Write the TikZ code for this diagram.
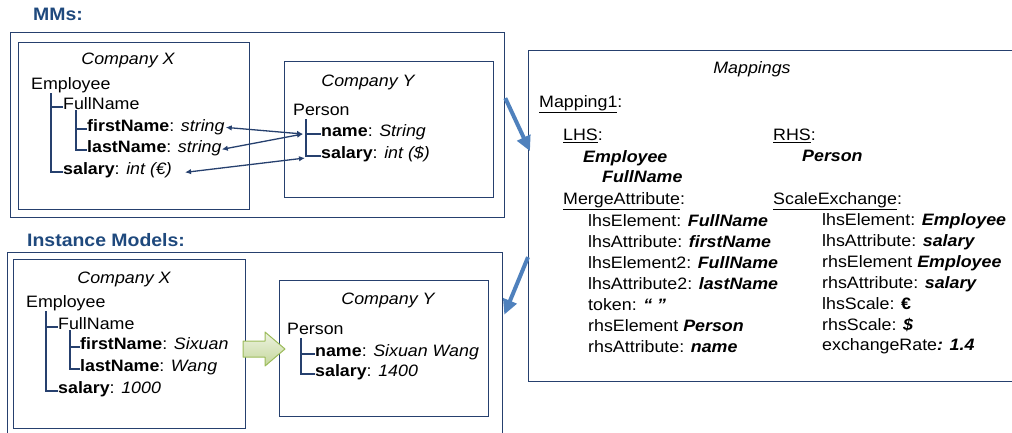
\documentclass[tikz,border=0pt]{standalone}
\usepackage{fontspec}
\setmainfont{Liberation Sans}[FakeStretch=1.08]
\usetikzlibrary{arrows.meta}

\definecolor{frame}{RGB}{38,64,110}
\definecolor{heading}{RGB}{31,73,125}
\definecolor{flow}{RGB}{79,129,189}
\definecolor{greenedge}{RGB}{155,187,89}
\definecolor{greenlight}{RGB}{238,243,226}
\definecolor{greendark}{RGB}{196,215,155}

% bold italic value inside a mapping entry
\newcommand\mapval[1]{\textbf{\textit{#1}}}

\begin{document}
\begin{tikzpicture}[x=1pt,y=-1pt,
  panel/.style={draw=frame, line width=1.3pt, anchor=north west, inner sep=0pt},
  txt/.style={anchor=mid west, inner sep=0pt, font=\fontsize{16.5}{19}\selectfont},
  bitxt/.style={txt, font=\fontsize{16.5}{19}\selectfont\bfseries\itshape},
  boxtitle/.style={inner sep=0pt, font=\fontsize{16.5}{19}\selectfont\itshape},
  headline/.style={anchor=mid west, inner sep=0pt, text=heading,
    font=\fontsize{18}{20}\selectfont\bfseries},
  tree/.style={draw=frame, line width=1.2pt},
  link/.style={draw=frame, line width=1.3pt,
    {Latex[length=6pt,width=5.5pt]}-{Latex[length=6pt,width=5.5pt]}},
  flowarrow/.style={draw=flow, line width=4pt,
    -{Triangle[length=15pt,width=14pt]}},
  blockarrow/.style={draw=greenedge, line width=1pt, line join=round,
    top color=greenlight, bottom color=greendark},
]
\useasboundingbox (0,0) rectangle (1012,432);

% ---------- frames ----------
\node[panel, minimum width=494pt, minimum height=185pt] (mms) at (10,32) {};
\node[panel, minimum width=231pt, minimum height=167pt] (cx1) at (18,42) {};
\node[panel, minimum width=209pt, minimum height=136pt] (cy1) at (284,61) {};
\node[panel, minimum width=500pt, minimum height=331pt] (map) at (528,50) {};
\node[panel, minimum width=495pt, minimum height=200pt] (inst) at (7,252) {};
\node[panel, minimum width=232pt, minimum height=169pt] (cx2) at (13,259) {};
\node[panel, minimum width=209pt, minimum height=136pt] (cy2) at (279,280) {};

% ---------- headings ----------
\node[headline] (hmms) at (33,18) {MMs:};
\node[headline] (hinst) at (27,244) {Instance Models:};

% ---------- metamodel: Company X ----------
\node[boxtitle] (tx1) at (128,60) {Company X};
\node[txt] (emp1) at (31,87) {Employee};
\node[txt] (fn1) at (63,107) {FullName};
\node[txt] (first1) at (87,129) {\textbf{firstName}: \textit{string}};
\node[txt] (last1) at (87,150) {\textbf{lastName}: \textit{string}};
\node[txt] (sal1) at (63,172) {\textbf{salary}: \textit{int (€)}};
\coordinate (t1) at ([xshift=20pt]emp1.south west);
\draw[tree] (t1) |- (sal1.mid west);
\draw[tree] (t1 |- fn1.mid west) -- (fn1.mid west);
\coordinate (t2) at ([xshift=13pt]fn1.south west);
\draw[tree] (t2) |- (last1.mid west);
\draw[tree] (t2 |- first1.mid west) -- (first1.mid west);

% ---------- metamodel: Company Y ----------
\node[boxtitle] (ty1) at (368,82) {Company Y};
\node[txt] (per1) at (293,113) {Person};
\node[txt] (nm1) at (321,134) {\textbf{name}: \textit{String}};
\node[txt] (sy1) at (321,156) {\textbf{salary}: \textit{int (\$)}};
\coordinate (t3) at ([xshift=13pt,yshift=-3pt]per1.south west);
\draw[tree] (t3) |- (sy1.mid west);
\draw[tree] (t3 |- nm1.mid west) -- (nm1.mid west);

% correspondences between the two metamodels
\coordinate (yn) at ([xshift=-3pt]t3 |- nm1.mid west);
\coordinate (ys) at ([xshift=-1pt,yshift=-2pt]t3 |- sy1.mid west);
\draw[link] ([xshift=1pt]first1.east) -- (yn);
\draw[link] ([xshift=0pt,yshift=-1pt]last1.east) -- (yn);
\draw[link] ([xshift=13pt,yshift=-2pt]sal1.east) -- (ys);

% ---------- mappings ----------
\node[boxtitle] (mtitle) at (752,69) {Mappings};
\node[txt] (m1) at (539,105) {\underline{Mapping1}:};
\node[txt] (lhs) at (563,138) {\underline{LHS}:};
\node[txt] (rhs) at (773,138) {\underline{RHS}:};
\node[bitxt] (lhsemp) at (583,160) {Employee};
\node[bitxt] (lhsfn) at (602,180) {FullName};
\node[bitxt] (rhsper) at (802,159) {Person};
\node[txt] (merge) at (563,202) {\underline{MergeAttribute}:};
\node[txt] (scale) at (773,202) {\underline{ScaleExchange}:};

\node[txt] (ma1) at (588,224) {lhsElement: \mapval{FullName}};
\node[txt] (ma2) at (588,245) {lhsAttribute: \mapval{firstName}};
\node[txt] (ma3) at (588,266) {lhsElement2: \mapval{FullName}};
\node[txt] (ma4) at (588,287) {lhsAttribute2: \mapval{lastName}};
\node[txt] (ma5) at (588,308) {token: \mapval{“ ”}};
\node[txt] (ma6) at (588,329) {rhsElement \mapval{Person}};
\node[txt] (ma7) at (588,350) {rhsAttribute: \mapval{name}};

\node[txt] (se1) at (822,223) {lhsElement: \mapval{Employee}};
\node[txt] (se2) at (822,244) {lhsAttribute: \mapval{salary}};
\node[txt] (se3) at (822,265) {rhsElement \mapval{Employee}};
\node[txt] (se4) at (822,286) {rhsAttribute: \mapval{salary}};
\node[txt] (se5) at (822,307) {lhsScale: \textbf{€}};
\node[txt] (se6) at (822,328) {rhsScale: \mapval{\$}};
\node[txt] (se7) at (822,348) {exchangeRate\mapval{: 1.4}};

% ---------- instance models: Company X ----------
\node[boxtitle] (tx2) at (124,279) {Company X};
\node[txt] (emp2) at (26,305) {Employee};
\node[txt] (fn2) at (58,327) {FullName};
\node[txt] (first2) at (80,347) {\textbf{firstName}: \textit{Sixuan}};
\node[txt] (last2) at (80,369) {\textbf{lastName}: \textit{Wang}};
\node[txt] (sal2) at (58,391) {\textbf{salary}: \textit{1000}};
\coordinate (t4) at ([xshift=20pt]emp2.south west);
\draw[tree] (t4) |- (sal2.mid west);
\draw[tree] (t4 |- fn2.mid west) -- (fn2.mid west);
\coordinate (t5) at ([xshift=12pt]fn2.south west);
\draw[tree] (t5) |- (last2.mid west);
\draw[tree] (t5 |- first2.mid west) -- (first2.mid west);

% ---------- instance models: Company Y ----------
\node[boxtitle] (ty2) at (388,300) {Company Y};
\node[txt] (per2) at (287,332) {Person};
\node[txt] (nm2) at (315,354) {\textbf{name}: \textit{Sixuan Wang}};
\node[txt] (sy2) at (315,374) {\textbf{salary}: \textit{1400}};
\coordinate (t6) at ([xshift=14pt,yshift=-3pt]per2.south west);
\draw[tree] (t6) |- (sy2.mid west);
\draw[tree] (t6 |- nm2.mid west) -- (nm2.mid west);

% transformation of the instance model: block arrow between the two boxes
\coordinate (trans) at (264,349);
\draw[blockarrow] ([shift={(-21,-8)}]trans) -- ([shift={(1,-8)}]trans)
  -- ([shift={(1,-17)}]trans) -- ([shift={(21,0)}]trans)
  -- ([shift={(1,17)}]trans) -- ([shift={(1,8)}]trans)
  -- ([shift={(-21,8)}]trans) -- cycle;

% ---------- flow between the panels ----------
\draw[flowarrow] ([yshift=27pt]mms.east) -- ([xshift=2pt,yshift=65pt]map.west);
\draw[flowarrow] ([yshift=-41pt]map.west) -- ([xshift=1pt,yshift=38pt]inst.east);

\end{tikzpicture}
\end{document}
